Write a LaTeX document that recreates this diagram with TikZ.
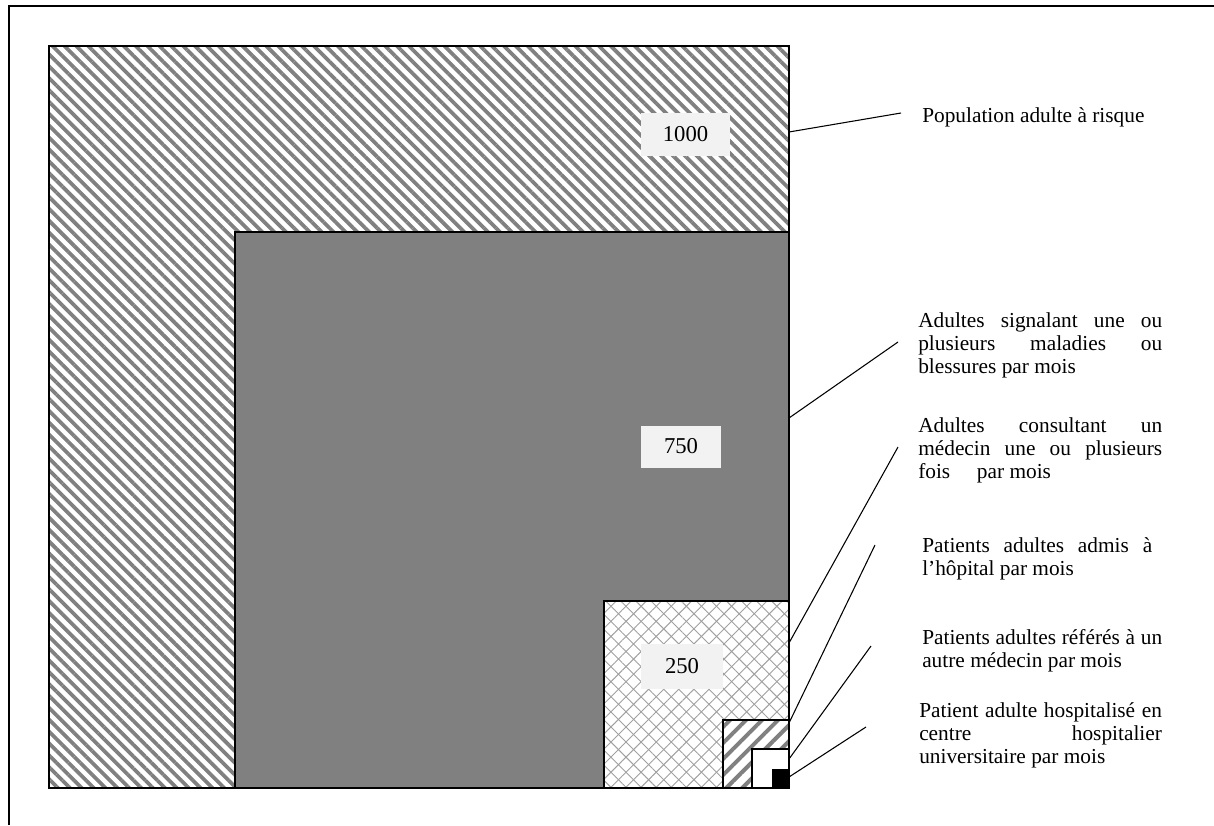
\documentclass[tikz,border=0pt]{standalone}
\usepackage{fontspec}
\setmainfont{Liberation Serif}
\usetikzlibrary{patterns.meta}
\definecolor{stripe}{HTML}{808080}
\definecolor{midgray}{HTML}{808080}
\definecolor{labelbg}{HTML}{F2F2F2}
\definecolor{hatch}{HTML}{A0A0A0}
\begin{document}
\begin{tikzpicture}[x=0.75pt,y=-0.75pt,
  frame/.style={draw=black,line width=0.8pt},
  numlabel/.style={fill=labelbg,inner sep=0pt,font=\fontsize{17}{20}\selectfont},
  desc/.style={anchor=north west,inner sep=0pt,align=left,font=\fontsize{16}{17.5}\selectfont},
  leader/.style={draw=black,line width=0.8pt}]
\fill[white] (0,0) rectangle (1214,825);
\path[use as bounding box] (0,0) rectangle (1214,825);
% outer frame (top and left visible)
\draw[line width=1.5pt] (8.7,825) -- (8.7,6) -- (1214,6);
% population 1000
\path[pattern={Lines[angle=-45,distance=6.3pt,line width=2.8pt]},pattern color=stripe] (49,46) rectangle (789,788);
\draw[frame] (49,46) rectangle (789,788);
% 750
\draw[frame,fill=midgray] (235,232) rectangle (789,788);
% 250
\path[fill=white] (604,601) rectangle (789,788);
\path[pattern={Lines[angle=45,distance=8pt,line width=0.7pt]},pattern color=hatch] (604,601) rectangle (789,788);
\path[pattern={Lines[angle=-45,distance=8pt,line width=0.7pt]},pattern color=hatch] (604,601) rectangle (789,788);
\draw[frame] (604,601) rectangle (789,788);
% admitted
\path[fill=white] (723,720) rectangle (789,788);
\path[pattern={Lines[angle=45,distance=8.5pt,line width=3pt]},pattern color=stripe] (723,720) rectangle (789,788);
\draw[frame] (723,720) rectangle (789,788);
% referred
\draw[frame,fill=white] (752,749) rectangle (789,788);
% university hospital
\draw[frame,fill=black] (773,770) rectangle (789,788);
% number labels
\node[numlabel,minimum width=66.75pt,minimum height=32.25pt] (n1000) at (685.5,134.5) {1000};
\node[numlabel,minimum width=60pt,minimum height=31.5pt] (n750) at (681,446.5) {750};
\node[numlabel,minimum width=61.5pt,minimum height=33.75pt] (n250) at (682,666.5) {250};
% descriptions
\node[anchor=base west,inner sep=0pt,font=\fontsize{16}{17.5}\selectfont] (t1) at (922,122) {Population adulte à risque};
\node[desc] (t2) at (918,312) {\hbox to 183pt{Adultes\hfill signalant\hfill une\hfill ou}\\
  \hbox to 183pt{plusieurs\hfill maladies\hfill ou}\\
  blessures par mois};
\node[desc] (t3) at (918,417) {\hbox to 183pt{Adultes\hfill consultant\hfill un}\\
  \hbox to 183pt{médecin\hfill une\hfill ou\hfill plusieurs}\\
  fois\hspace*{16pt} par mois};
\node[desc] (t4) at (922,537) {\hbox to 172.5pt{Patients\hfill adultes\hfill admis\hfill à}\\
  l’hôpital par mois};
\node[desc] (t5) at (922,629) {\hbox to 180pt{Patients\hfill adultes\hfill référés\hfill à\hfill un}\\
  autre médecin par mois};
\node[desc] (t6) at (919,702) {\hbox to 182pt{Patient\hfill adulte\hfill hospitalisé\hfill en}\\
  \hbox to 182pt{centre\hfill hospitalier}\\
  universitaire par mois};
% leader lines
\coordinate (l1s) at (789,132); \coordinate (l1e) at (901,113);
\coordinate (l2s) at (789,418); \coordinate (l2e) at (898,342);
\coordinate (l3s) at (789,643); \coordinate (l3e) at (898,447);
\coordinate (l4s) at (789,723); \coordinate (l4e) at (875,545);
\coordinate (l5s) at (789,759); \coordinate (l5e) at (871,646);
\coordinate (l6s) at (789,777); \coordinate (l6e) at (866,727);
\draw[leader] (l1s) -- (l1e);
\draw[leader] (l2s) -- (l2e);
\draw[leader] (l3s) -- (l3e);
\draw[leader] (l4s) -- (l4e);
\draw[leader] (l5s) -- (l5e);
\draw[leader] (l6s) -- (l6e);
\end{tikzpicture}
\end{document}
